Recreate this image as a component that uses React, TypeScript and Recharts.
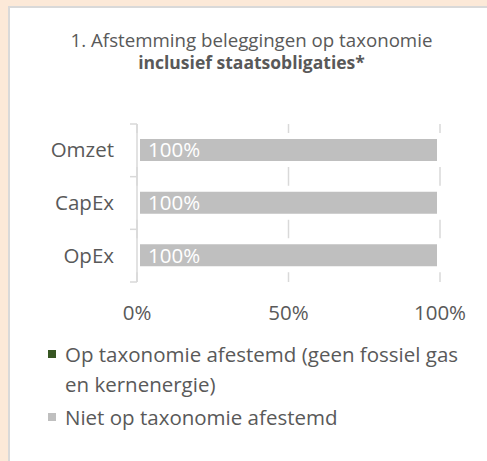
import React from 'react'
import { BarChart, Bar, XAxis, YAxis, CartesianGrid, LabelList } from 'recharts'

const categories = ['Omzet', 'CapEx', 'OpEx']
const aligned = [0, 0, 0]
const notAligned = [1, 1, 1]
const xTicks = [0, 0.5, 1]

const series = [
  { key: 'aligned', name: 'Op taxonomie afestemd (geen fossiel gas en kernenergie)', color: '#375623' },
  { key: 'notAligned', name: 'Niet op taxonomie afestemd', color: '#bfbfbf' },
]

const data = categories.map((name, i) => ({
  name,
  aligned: aligned[i],
  notAligned: notAligned[i],
}))

const FONT = '"Open Sans", sans-serif'
const TEXT = '#595959'
const LINE = '#d9d9d9'

const pct = (v: number) => `${Math.round(v * 100)}%`

const CategoryTick = (props: any) => {
  const { x, y, payload, index } = props
  const half = payload?.offset ?? 0
  const axisX = x + 23
  return (
    <g>
      <text x={x} y={y} dy={7} textAnchor="end" fill={TEXT} fontSize={20.5} fontFamily={FONT}>
        {payload.value}
      </text>
      {index === 0 && (
        <line x1={axisX - 7} x2={axisX} y1={y - half} y2={y - half} stroke={LINE} strokeWidth={1.5} />
      )}
      <line x1={axisX - 7} x2={axisX} y1={y + half} y2={y + half} stroke={LINE} strokeWidth={1.5} />
    </g>
  )
}

export default function App() {
  return (
    <div style={{ position: 'absolute', left: 0, top: 0, width: 487, height: 461, background: '#fce9d8', overflow: 'hidden' }}>
      <div
        style={{
          position: 'absolute',
          left: 8,
          top: 6,
          width: 500,
          height: 480,
          background: '#fff',
          border: '2px solid #d9d9d9',
        }}
      />
      <div
        style={{
          position: 'absolute',
          left: 8,
          top: 28,
          width: 487,
          textAlign: 'center',
          fontFamily: FONT,
          lineHeight: '23px',
          color: TEXT,
        }}
      >
        <div style={{ fontSize: 18.7 }}>1. Afstemming beleggingen op taxonomie</div>
        <div style={{ fontSize: 17.5, fontWeight: 'bold' }}>inclusief staatsobligaties*</div>
      </div>
      <div style={{ position: 'absolute', left: 0, top: 0 }}>
        <BarChart
          width={487}
          height={461}
          data={data}
          layout="vertical"
          margin={{ top: 124, right: 47, bottom: 139, left: 57 }}
          barSize={28}
        >
          <CartesianGrid horizontal={false} stroke={LINE} strokeWidth={1.5} />
          <XAxis
            type="number"
            domain={[0, 1]}
            ticks={xTicks}
            tickFormatter={pct}
            axisLine={false}
            tickLine={false}
            height={40}
            tickMargin={17}
            tick={{ fill: TEXT, fontSize: 20.5, fontFamily: FONT }}
          />
          <YAxis
            type="category"
            dataKey="name"
            width={80}
            axisLine={{ stroke: LINE, strokeWidth: 1.5 }}
            tickLine={false}
            tickSize={7}
            tickMargin={16}
            tick={<CategoryTick />}
          />
          <Bar dataKey="aligned" name={series[0].name} stackId="a" fill={series[0].color} stroke="#fff" strokeWidth={6} isAnimationActive={false} />
          <Bar dataKey="notAligned" name={series[1].name} stackId="a" fill={series[1].color} stroke="#fff" strokeWidth={6} isAnimationActive={false}>
            <LabelList dataKey="notAligned" position="insideLeft" offset={11} formatter={pct} fill="#fff" fontSize={20.5} fontFamily={FONT} />
          </Bar>
        </BarChart>
      </div>
      <div
        style={{
          position: 'absolute',
          left: 40,
          top: 339,
          width: 440,
          fontFamily: FONT,
          fontSize: 20.5,
          color: TEXT,
          lineHeight: '30px',
        }}
      >
        {series.map((s) => (
          <div key={s.key} style={{ position: 'relative', paddingLeft: 25, marginBottom: 3 }}>
            <span style={{ position: 'absolute', left: 8, top: 11, width: 8, height: 8, background: s.color }} />
            {s.name}
          </div>
        ))}
      </div>
    </div>
  )
}
